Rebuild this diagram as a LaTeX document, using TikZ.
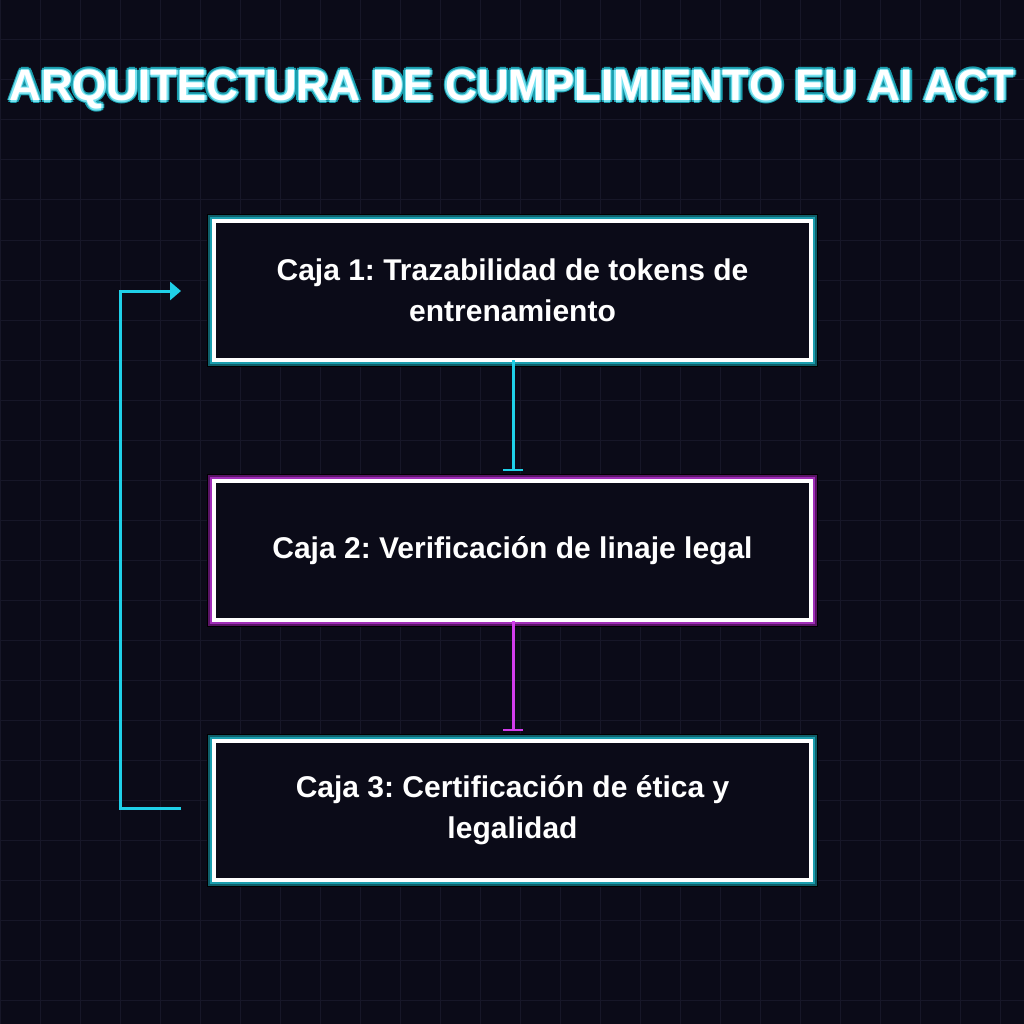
\documentclass[tikz,border=0pt]{standalone}
\usepackage{fontspec}
\setmainfont{Liberation Sans}
\usetikzlibrary{arrows.meta}
\definecolor{bg}{HTML}{0B0B18}
\definecolor{gridc}{HTML}{171728}
\definecolor{cy}{HTML}{1FD0E8}
\definecolor{tealA}{HTML}{0F5F6A}
\definecolor{tealB}{HTML}{1A9EAE}
\definecolor{magA}{HTML}{5A1466}
\definecolor{magB}{HTML}{A02EB8}
\definecolor{mag}{HTML}{D23CEC}
\tikzset{
  boxtxt/.style={text=white,font=\frenchspacing\bfseries\fontsize{30}{41}\selectfont,align=center},
  conn/.style={line width=3pt},
}
\newcommand{\glowbox}[5]{% name, y1, y2, colA, colB
  \fill[black] (207,#2) rectangle (818,#3);
  \fill[#4] (208,#2+1) rectangle (817,#3-1);
  \fill[#5] (210,#2+3) rectangle (815,#3-3);
  \fill[white] (212,#2+5) rectangle (813,#3-5);
  \fill[bg] (216,#2+9) rectangle (809,#3-9);
  \coordinate (#1) at (512.5,{(#2+#3)/2});
}
\newcommand{\ttl}{\resizebox{1005pt}{!}{ARQUITECTURA DE CUMPLIMIENTO EU AI ACT}}
\begin{document}
\begin{tikzpicture}[x=1pt,y=-1pt]
\fill[bg] (0,0) rectangle (1024,1024);
\useasboundingbox (0,0) rectangle (1024,1024);
\foreach \i in {0,40,...,1000}{
  \draw[gridc,line width=1pt] (\i,0) -- (\i,1024);
  \draw[gridc,line width=1pt] (0,\i) -- (1024,\i);
}
% title glow
\foreach \dx/\dy in {-3/0,3/0,0/-3,0/3,-2/-2,2/2,-2/2,2/-2}{
  \node[text=tealB,font=\bfseries] at (512+\dx,90+\dy) {\ttl};
}
\foreach \dx/\dy in {-1.5/0,1.5/0,0/-1.5,0/1.5}{
  \node[text=cy!60!white,font=\bfseries] at (512+\dx,90+\dy) {\ttl};
}
\node[text=white,font=\bfseries] (title) at (512,90) {\ttl};
% boxes
\glowbox{c1}{214}{367}{tealA}{tealB}
\glowbox{c2}{474}{627}{magA}{magB}
\glowbox{c3}{734}{887}{tealA}{tealB}
\node[boxtxt] (b1) at (c1) {Caja 1: Trazabilidad de tokens de\\entrenamiento};
\node[boxtxt] (b2) at (c2) {Caja 2: Verificación de linaje legal};
\node[boxtxt] (b3) at (c3) {Caja 3: Certificación de ética y\\legalidad};
\coordinate (b1b) at (513,360);
\coordinate (b2t) at (513,471);
\coordinate (b2b) at (513,621);
\coordinate (b3t) at (513,731);
\draw[conn,cy,-{Bar[width=20pt,line width=2pt]}] (b1b) -- (b2t);
\draw[conn,mag,-{Bar[width=20pt,line width=2pt]}] (b2b) -- (b3t);
\coordinate (l1) at (181,808);
\coordinate (l2) at (181,291);
\draw[conn,cy,-{Triangle[length=11pt,width=18pt]}] (l1) -- (120,808) -- (120,291) -- (l2);
\end{tikzpicture}
\end{document}
